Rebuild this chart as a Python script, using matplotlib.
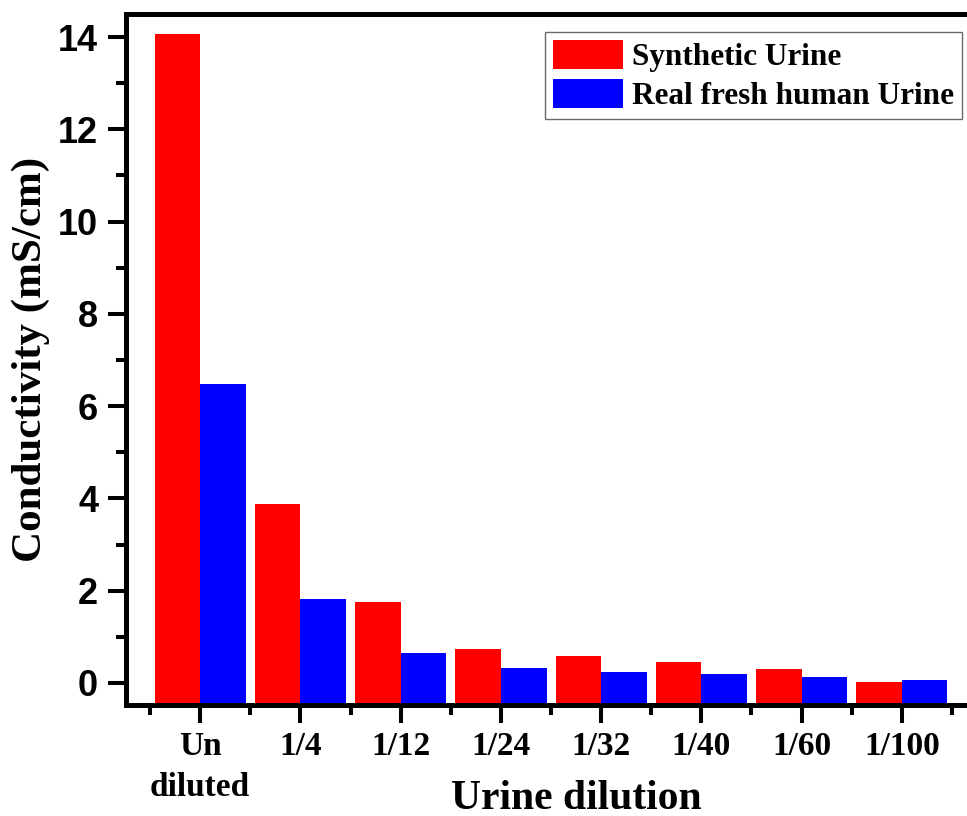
import numpy as np
import matplotlib
matplotlib.use("Agg")
from matplotlib import pyplot as plt
from matplotlib.ticker import FixedLocator

categories = ["Un\ndiluted", "1/4", "1/12", "1/24", "1/32", "1/40", "1/60", "1/100"]
synthetic = [14.06, 3.88, 1.76, 0.74, 0.59, 0.46, 0.30, 0.02]
real_urine = [6.47, 1.83, 0.66, 0.32, 0.24, 0.20, 0.13, 0.07]
series_names = ["Synthetic Urine", "Real fresh human Urine"]

serif = ["Liberation Serif", "DejaVu Serif"]
sans = ["Liberation Sans", "DejaVu Sans"]

fig = plt.figure(figsize=(9.67, 8.16), dpi=100)
ax = fig.add_axes([126 / 967, 1 - 705 / 816, (967 - 126) / 967, (705 - 14) / 816])

ymin, ymax = -0.477, 14.5
x = np.arange(len(categories))
w = 0.455
# bars start at the bottom of the frame, as in the original
ax.bar(x - w / 2, np.array(synthetic) - ymin, width=w, bottom=ymin,
       color="#ff0000", label=series_names[0], linewidth=0)
ax.bar(x + w / 2, np.array(real_urine) - ymin, width=w, bottom=ymin,
       color="#0000ff", label=series_names[1], linewidth=0)

ax.set_xlim(-0.74, 7.65)
ax.set_ylim(ymin, ymax)

ax.set_xticks(x)
ax.set_xticklabels(categories)
ax.xaxis.set_minor_locator(FixedLocator(np.arange(-0.5, 8, 1.0)))
ax.set_yticks(np.arange(0, 15, 2))
ax.yaxis.set_minor_locator(FixedLocator(np.arange(1, 14, 2)))

for side in ["left", "bottom", "top"]:
    ax.spines[side].set_linewidth(3.6)
ax.spines["right"].set_visible(False)

ax.tick_params(which="major", direction="out", length=13, width=2.9, pad=7)
ax.tick_params(which="minor", direction="out", length=7, width=2.9)
ax.tick_params(axis="x", which="major", pad=5.5)

for lab in ax.get_yticklabels():
    lab.set_fontfamily(sans)
    lab.set_fontweight("bold")
    lab.set_fontsize(26)
for lab in ax.get_xticklabels():
    lab.set_fontfamily(serif)
    lab.set_fontweight("bold")
    lab.set_fontsize(24)
    lab.set_linespacing(1.45)

ax.set_ylabel("Conductivity (mS/cm)", fontfamily=serif, fontweight="bold", fontsize=31)
ax.set_xlabel("Urine dilution", fontfamily=serif, fontweight="bold", fontsize=30)
ax.yaxis.set_label_coords(-0.09, 0.5)
ax.xaxis.set_label_coords(0.535, -0.108)

leg = ax.legend(loc="upper right", bbox_to_anchor=(962 / 967, 1 - 32 / 816),
                bbox_transform=fig.transFigure, borderaxespad=0,
                prop={"family": serif, "weight": "bold", "size": 22.5},
                fancybox=False, frameon=True, handlelength=2.25, handleheight=1.08,
                handletextpad=0.3, labelspacing=0.2, borderpad=0.25)
leg.get_frame().set_edgecolor("#444444")
leg.get_frame().set_linewidth(1.0)

fig.savefig("out.png", dpi=100)
